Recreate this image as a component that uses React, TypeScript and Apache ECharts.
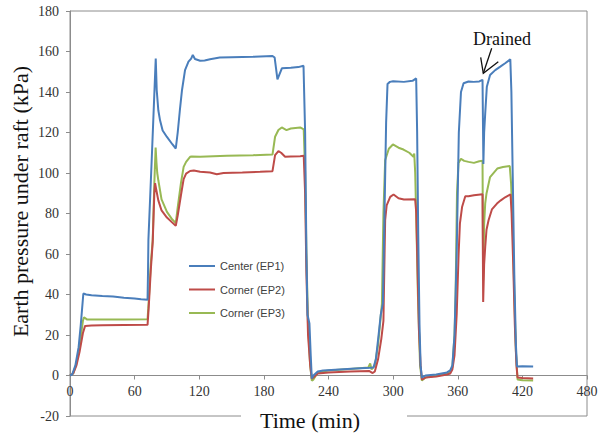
import React, { useEffect, useRef } from "react";
import * as echarts from "echarts";

const seriesNames = ["Center (EP1)", "Corner (EP2)", "Corner (EP3)"];
const seriesColors = ["#4a7ebb", "#be4b48", "#98b954"];

// [time (min), earth pressure (kPa)]
const centerEP1: [number, number][] = [
  [0, 0], [2, 0.5], [5, 5], [8, 14], [10, 25], [12.4, 40.5], [15, 40], [20, 39.6], [30, 39.2], [40, 39], [50, 38.4], [60, 38], [66, 37.6], [72, 37.4],
  [72.4, 50], [72.8, 67], [75.9, 107], [79.6, 156.5], [80.5, 141], [82, 131], [83.6, 126], [86, 121], [90, 117.8], [95, 114.2], [98.2, 112.1],
  [100, 120], [102, 131], [104, 141], [106.8, 150.8], [110, 155], [112.5, 156.5], [114, 158.3], [116, 156.3], [120.8, 155.4], [125, 155.6], [130, 156.2],
  [139, 157], [150, 157.2], [170, 157.4], [188, 157.8], [190, 157], [192.6, 146.2], [196.7, 151.7], [205, 152], [212, 152.3], [216.8, 153],
  [218.3, 120], [219.5, 60], [220.5, 30], [222.3, 25.7], [223.5, 10], [224.5, -1.5], [226, 0], [230, 2], [235, 2.5], [250, 3], [265, 3.5], [278.7, 3.8], [281.8, 4],
  [284, 8], [286.5, 20], [288.5, 30], [290.5, 35.6], [292, 80], [293.5, 125], [294.8, 144], [297, 145], [300, 145.3], [310, 145], [318, 145.5], [321.4, 146.7],
  [322.3, 120], [323.3, 70], [324.5, 25], [325.5, 5], [326.7, -1], [330, 0], [340, 0.5], [350, 1.5], [353, 2.5],
  [355, 5], [357, 20], [359, 60], [361, 120], [363, 140], [365.4, 144.3], [370, 145.2], [375, 145], [380, 145.2], [383, 146],
  [383.8, 104.5], [384.5, 120], [385.5, 129.4], [387, 142.6], [390, 148.4], [394.8, 150.8], [399.5, 152.5], [404, 154.2], [408.8, 156.1],
  [409.8, 140], [411, 100], [412.5, 50], [414, 15], [415, 4.5], [420, 4.6], [430, 4.5],
];

const cornerEP2: [number, number][] = [
  [0, 0], [3, 1], [6, 5], [9, 12], [12, 21], [14, 24.5], [20, 24.7], [30, 24.8], [50, 24.9], [72, 25],
  [73, 33], [75, 52], [76.8, 66], [78.3, 90], [79, 95], [80, 92], [82, 86.5], [85, 81.5], [90, 78], [95, 75.5], [98.2, 73.9],
  [100, 79], [103, 89], [105.5, 97], [107.8, 99.7], [111.5, 101], [115, 101.2], [120.8, 100.6], [130, 100.2], [136.3, 99.4], [142.5, 100],
  [160, 100.3], [176.5, 100.6], [188, 100.9], [190.4, 108.8], [193.5, 110.8], [196, 110], [199.7, 108], [205, 108.2], [213.7, 108.3], [217, 108.5],
  [218.3, 90], [219.5, 50], [221, 20], [223, 5], [224.5, -1.5], [226, -1], [230, 1], [240, 1.5], [260, 2], [278, 2.2], [281, 1.2],
  [283, 2], [286, 8], [289, 18], [291, 27], [292.6, 76.7], [294, 84], [297.3, 88.2], [300.4, 89.4], [305, 87.5], [310, 86.9], [320.5, 87],
  [321.5, 80], [322.8, 50], [324, 22], [325.5, 5], [326.7, -2], [330, -1], [340, -0.5], [350, 0.5], [353, 1],
  [355, 3], [357, 10], [359, 30], [360.8, 60], [362, 75], [364, 83.2], [367, 88.5], [370, 88.5], [375, 89], [383, 89.5],
  [383.6, 36.3], [384.5, 55], [385.5, 63.5], [386.7, 72], [388.6, 76.7], [391.7, 82], [396.4, 84.9], [400, 86.5], [404, 88], [409, 89.5],
  [410, 80], [411.5, 55], [413, 25], [414.5, 5], [415.5, -1], [420, -1.2], [430, -1.5],
];

const cornerEP3: [number, number][] = [
  [0, 0], [3, 1], [6, 6], [9, 15], [12, 27], [13, 28.8], [16, 27.6], [30, 27.7], [50, 27.7], [72, 27.8],
  [73, 36], [75, 55], [76.8, 67], [78.3, 95], [79.5, 112.6], [80.3, 105], [81, 100], [82, 96.4], [85, 87], [90, 80.8], [95, 77], [98.2, 75.3],
  [100, 83], [103, 95], [105.5, 103], [107.8, 105.5], [111.5, 108], [113, 108.1], [120.8, 108], [145.6, 108.5], [170, 108.8], [188, 109.1],
  [190.4, 117.9], [193.5, 121.2], [196.6, 122.5], [201, 121.2], [205, 122], [213.7, 122.5], [217, 121.5],
  [218.3, 100], [219.5, 60], [221, 25], [223, 5], [224.5, -2.5], [226, -2], [230, 1.5], [240, 2.5], [260, 3.2], [277, 4], [278.7, 6], [280, 3],
  [283, 5], [286, 15], [289.6, 35.4], [291, 80], [292.6, 106.3], [296, 112], [299.8, 114.1], [305, 112.5], [309.6, 111.6], [315, 110], [318.9, 108], [319.6, 109.6],
  [320.5, 100], [321.8, 70], [323, 40], [325, 5], [326.7, -2.5], [330, -1], [340, 0], [350, 1], [353, 2],
  [355, 4], [357, 20], [358, 40], [359.3, 90], [360.7, 105], [363, 107], [366, 106], [370, 105.5], [375, 105], [380, 105.8], [383, 106],
  [383.6, 47], [384.5, 75], [385.5, 85], [386.7, 89.9], [390, 98], [396.7, 102.2], [402, 103], [408.3, 103.4],
  [409.5, 95], [411, 75], [412.5, 40], [414, 12], [415.5, -2], [420, -2.3], [430, -2.5],
];

const seriesData = [centerEP1, cornerEP2, cornerEP3];

const xTicks = { min: 0, max: 480, interval: 60 };
const yTicks = { min: -20, max: 180, interval: 20 };

const xTitle = "Time (min)";
const yTitle = "Earth pressure under raft (kPa)";
const annotation = "Drained";

const SERIF = '"Liberation Serif", "Times New Roman", serif';
const SANS = '"Liberation Sans", Arial, sans-serif';

const GRID_TOP = 11;
const GRID_BOTTOM = 20;
const H = 436;

export default function App() {
  const ref = useRef<HTMLDivElement>(null);
  useEffect(() => {
    document.body.style.margin = "0";
    if (!ref.current) return;
    const chart = echarts.init(ref.current, undefined, { renderer: "svg" });
    const gridH = H - GRID_TOP - GRID_BOTTOM;
    // shift the x axis up to the y = 0 line
    const zeroOffset = -((0 - yTicks.min) / (yTicks.max - yTicks.min)) * gridH;
    chart.setOption({
      animation: false,
      backgroundColor: "#ffffff",
      grid: {
        left: 70,
        right: 14,
        top: GRID_TOP,
        bottom: GRID_BOTTOM,
        show: true,
        borderColor: "#8c8c8c",
        borderWidth: 1,
        backgroundColor: "transparent",
      },
      legend: {
        orient: "vertical",
        left: 184,
        top: 254,
        icon: "rect",
        itemWidth: 26,
        itemHeight: 2,
        itemGap: 9.5,
        textStyle: { fontFamily: SANS, fontSize: 11, color: "#404040", lineHeight: 14 },
        data: seriesNames,
      },
      xAxis: {
        type: "value",
        min: xTicks.min,
        max: xTicks.max,
        interval: xTicks.interval,
        position: "bottom",
        offset: zeroOffset,
        axisLine: { onZero: false, lineStyle: { color: "#8c8c8c", width: 1 } },
        axisTick: { show: true, length: 4, lineStyle: { color: "#8c8c8c" } },
        axisLabel: { fontFamily: SERIF, fontSize: 14, color: "#333", margin: 9, showMinLabel: true, showMaxLabel: true },
        splitLine: { show: false },
      },
      yAxis: {
        type: "value",
        min: yTicks.min,
        max: yTicks.max,
        interval: yTicks.interval,
        axisLine: { show: true, lineStyle: { color: "#8c8c8c", width: 1 } },
        axisTick: { show: true, length: 4, lineStyle: { color: "#8c8c8c" } },
        axisLabel: { fontFamily: SERIF, fontSize: 14, color: "#333", margin: 11 },
        splitLine: { show: false },
      },
      series: seriesNames.map((name, i) => ({
        name,
        type: "line",
        data: seriesData[i],
        symbol: "none",
        showSymbol: false,
        color: seriesColors[i],
        lineStyle: { width: 2, color: seriesColors[i] },
        z: 3 - i,
      })),
      graphic: [
        {
          type: "rect",
          z: 100,
          shape: { x: 241, y: 408, width: 166, height: 28 },
          style: { fill: "#ffffff" },
        },
        {
          type: "text",
          z: 101,
          x: 310,
          y: 420.5,
          style: { text: xTitle, font: `22px ${SERIF}`, fill: "#111", align: "center", verticalAlign: "middle" },
        },
        {
          type: "text",
          z: 101,
          x: 20.5,
          y: 201.5,
          rotation: Math.PI / 2,
          style: { text: yTitle, font: `22px ${SERIF}`, fill: "#111", align: "center", verticalAlign: "middle" },
        },
        {
          type: "text",
          z: 101,
          x: 502,
          y: 39,
          style: { text: annotation, font: `18px ${SERIF}`, fill: "#111", align: "center", verticalAlign: "middle" },
        },
        {
          type: "polyline",
          z: 101,
          shape: { points: [[491.7, 48.3], [483.3, 73.3]] },
          style: { stroke: "#111", lineWidth: 1.3, fill: "none" },
        },
        {
          type: "polyline",
          z: 101,
          shape: { points: [[480.7, 57.3], [483.3, 73.3], [498.3, 61.7]] },
          style: { stroke: "#111", lineWidth: 1.3, fill: "none" },
        },
      ],
    });
    return () => chart.dispose();
  }, []);
  return <div ref={ref} style={{ width: 601, height: 436 }} />;
}
